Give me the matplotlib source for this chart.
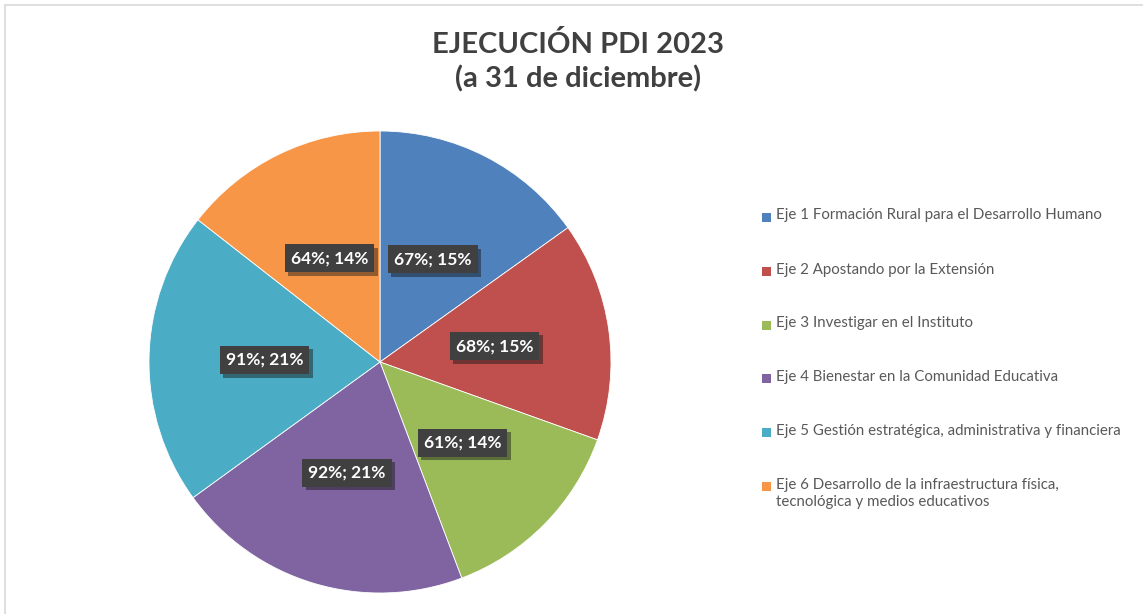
import matplotlib.pyplot as plt
import matplotlib.patheffects as pe
from matplotlib.patches import Rectangle
import numpy as np

ejes = ['Eje 1 Formación Rural para el Desarrollo Humano',
        'Eje 2 Apostando por la Extensión',
        'Eje 3 Investigar en el Instituto',
        'Eje 4 Bienestar en la Comunidad Educativa',
        'Eje 5 Gestión estratégica, administrativa y financiera',
        'Eje 6 Desarrollo de la infraestructura física,\ntecnológica y medios educativos']
ejecucion = [67, 68, 61, 92, 91, 64]
colores = ['#4F81BD', '#C0504D', '#9BBB59', '#8064A2', '#4BACC6', '#F79646']

W, H = 1143, 614
fig = plt.figure(figsize=(W / 100, H / 100), dpi=100)
fig.patch.set_facecolor('white')

# marco del grafico
fig.patches.append(Rectangle((5 / W, -0.1), 1.2, 1 - 4.5 / H + 0.1, transform=fig.transFigure,
                             fill=False, edgecolor='#D9D9D9', linewidth=1.2))

cx, cy, r = 380, 362, 231
ax = fig.add_axes([(cx - r) / W, (H - cy - r) / H, 2 * r / W, 2 * r / H])
wedges, _ = ax.pie(ejecucion, colors=colores, startangle=90, counterclock=False,
                   wedgeprops=dict(edgecolor='white', linewidth=0.6))
ax.set_xlim(-1, 1)
ax.set_ylim(-1, 1)
ax.set_aspect('equal')
ax.axis('off')

total = sum(ejecucion)
for w, v in zip(wedges, ejecucion):
    ang = np.deg2rad((w.theta1 + w.theta2) / 2)
    x, y = 0.5 * np.cos(ang), 0.5 * np.sin(ang)
    t = ax.text(x, y, f'{v}%; {round(100 * v / total)}%', ha='center', va='center',
                color='white', fontsize=12.5, fontweight='bold', family='Lato',
                bbox=dict(boxstyle='square,pad=0.35', facecolor='#404040', edgecolor='none'))
    t.get_bbox_patch().set_path_effects([pe.withSimplePatchShadow(offset=(2.5, -2.5), alpha=0.45),
                                         pe.Normal()])

fig.text(578 / W, 1 - 62 / H, 'EJECUCIÓN PDI 2023\n(a 31 de diciembre)', ha='center', va='center',
         fontsize=21, fontweight='bold', color='#404040', family='Lato', linespacing=1.35)

# leyenda
filas = [217, 271, 325, 378, 432, 486]
for y, lab, c in zip(filas, ejes, colores):
    fig.patches.append(Rectangle((762 / W, 1 - (y + 4.5) / H), 9 / W, 9 / H,
                                 transform=fig.transFigure, facecolor=c, edgecolor='none'))
    fig.text(776 / W, 1 - (y - 8.5) / H, lab, ha='left', va='top', fontsize=10.8,
             color='#595959', family='Lato', linespacing=1.3)

fig.savefig('out.png', dpi=100, facecolor='white')
